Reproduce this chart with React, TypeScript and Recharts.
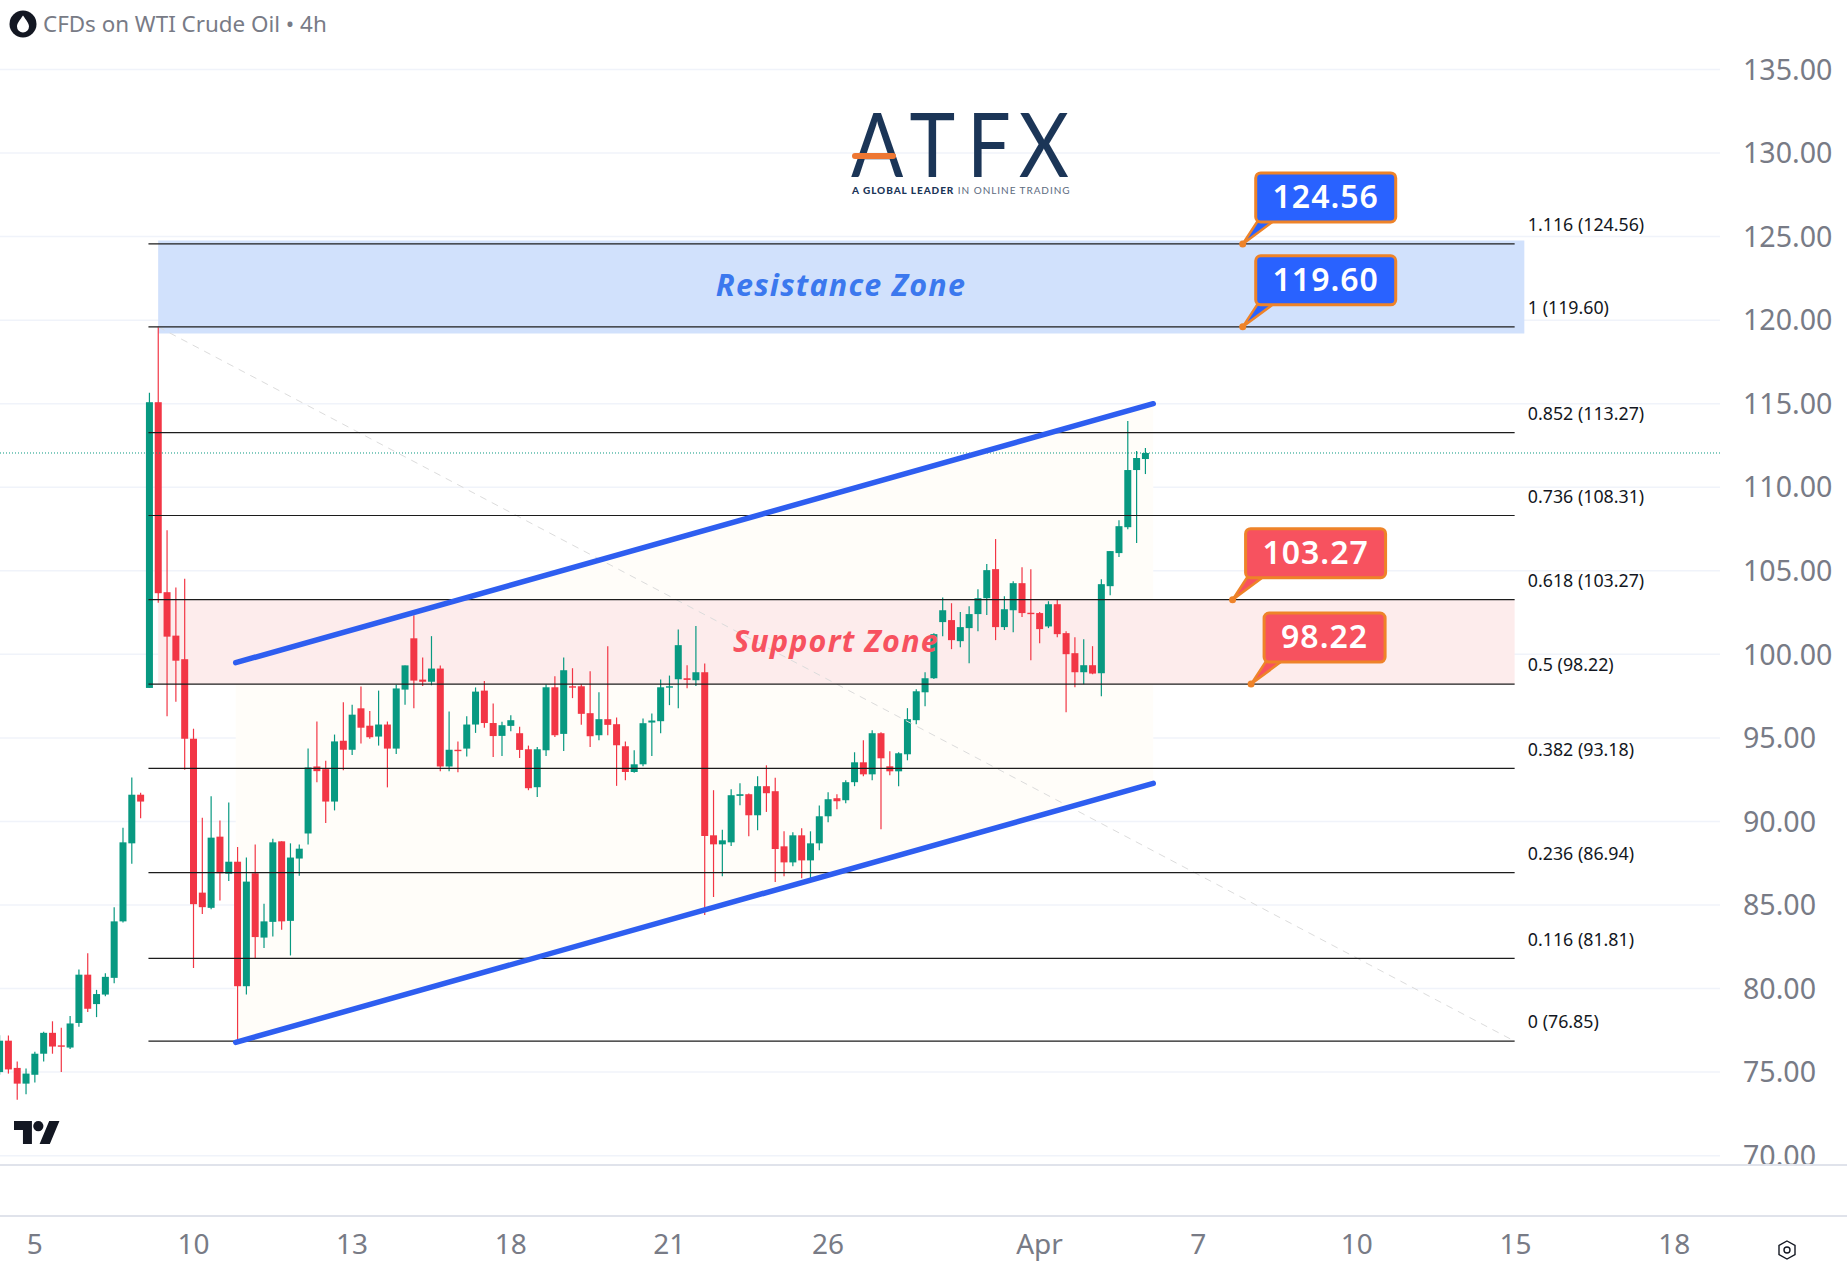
import React from "react";
import { ComposedChart, Bar, XAxis, YAxis, CartesianGrid, ReferenceLine, ReferenceArea, ReferenceDot } from "recharts";

const opens = [75.0,76.88,75.25,74.31,74.84,76.10,77.35,76.60,76.47,77.94,80.83,79.07,79.64,80.64,84.02,88.69,91.60,97.99,115.09,103.72,101.12,99.71,94.95,85.74,84.83,89.09,86.87,87.59,80.14,86.90,83.05,83.99,88.81,84.05,87.78,89.28,93.29,93.13,91.19,94.83,94.29,96.77,95.73,95.08,95.80,94.36,97.89,100.96,98.49,98.36,99.15,93.29,94.29,94.36,95.80,97.83,95.89,95.12,95.72,95.28,94.32,92.05,94.26,98.03,95.24,98.09,98.09,96.48,95.16,96.12,95.82,94.50,92.96,93.42,95.92,96.0,98.01,98.51,98.57,98.45,98.93,89.17,88.63,88.75,91.53,91.63,90.37,92.11,91.81,88.51,87.55,89.17,87.67,88.69,90.31,91.39,91.27,92.35,93.54,92.82,95.28,93.30,93.0,94.02,96.06,97.73,98.57,101.93,102.05,100.79,101.57,102.41,103.36,105.10,101.63,102.64,104.26,102.49,102.47,101.67,103.0,101.27,100.07,98.93,99.35,98.87,104.08,106.06,107.61,111.03,111.69];
const closes = [76.88,75.16,74.31,74.91,76.10,77.35,76.53,76.57,77.91,80.83,78.79,79.67,80.70,84.02,88.75,91.60,91.19,115.09,103.66,101.06,99.62,94.95,85.05,84.87,89.03,86.90,87.59,80.14,86.40,83.08,84.02,88.75,84.02,87.84,88.37,93.23,93.01,91.19,94.79,94.29,96.39,95.61,95.04,95.80,94.36,97.96,99.34,98.43,98.36,99.15,93.29,94.29,94.23,95.80,97.77,95.89,95.11,95.76,96.06,94.28,91.99,94.32,98.03,95.16,99.05,98.03,96.44,95.10,96.12,95.78,94.56,92.96,93.42,95.88,96.04,98.03,98.09,100.55,98.47,98.93,89.13,88.63,88.87,91.57,91.63,90.37,92.11,91.69,88.35,87.55,89.17,87.67,88.69,90.31,91.33,91.21,92.35,93.54,92.82,95.28,93.78,93.0,94.08,96.12,97.79,98.57,101.21,102.64,100.85,101.63,102.41,103.36,105.04,101.63,102.70,104.26,102.47,102.43,101.51,103.0,101.21,100.01,98.93,99.35,98.85,104.20,106.18,107.67,111.03,111.75,112.05];
const highs = [77.2,77.19,75.63,75.22,76.22,77.41,78.04,77.66,78.35,81.14,82.11,79.92,80.92,84.87,89.63,92.63,91.72,115.65,119.6,107.42,104.0,104.53,95.55,90.22,91.51,90.06,91.13,88.47,87.84,88.62,85.08,88.97,88.81,88.69,88.62,94.36,95.98,93.64,95.20,97.14,96.99,98.08,96.61,97.83,95.98,98.18,99.34,102.34,99.81,101.09,99.34,96.58,94.79,96.30,98.02,98.40,97.06,95.96,96.36,95.66,94.54,94.46,98.19,98.69,99.81,99.17,98.21,98.99,97.73,100.49,96.22,94.78,94.26,96.16,96.46,98.49,98.73,101.49,99.35,101.69,99.45,91.87,89.51,91.93,92.29,91.67,92.70,93.36,92.62,89.41,89.35,89.59,89.41,90.95,91.75,91.63,92.47,94.14,94.86,95.46,95.34,94.20,94.14,96.78,97.91,98.93,101.27,103.40,103.06,102.53,102.88,103.90,105.40,106.90,103.48,104.38,105.22,105.10,102.53,103.18,103.30,101.39,101.03,100.91,100.49,104.50,106.18,108.03,113.96,112.17,112.35];
const lows = [74.84,74.91,73.34,73.68,74.37,75.63,76.10,75.0,76.38,77.72,78.60,78.29,79.54,80.32,83.96,87.47,90.19,97.99,103.09,96.30,97.17,93.10,81.23,84.46,84.74,85.27,86.43,76.85,79.64,81.80,82.42,83.11,83.52,81.98,86.75,88.62,92.35,89.91,90.66,93.07,93.98,94.67,94.95,94.54,92.04,94.04,96.99,96.77,98.11,98.15,93.01,93.01,92.95,93.89,95.30,95.61,93.86,93.92,95.40,93.80,91.87,91.47,93.92,95.06,94.22,97.38,95.78,94.46,94.86,95.16,92.13,92.47,92.92,93.30,93.92,95.28,96.96,96.78,97.97,98.11,84.40,85.48,86.72,88.53,90.97,89.11,89.47,90.57,86.38,86.72,87.32,86.60,86.48,88.27,89.95,90.73,91.09,92.11,92.70,92.47,89.53,92.76,92.11,93.66,95.82,96.90,98.53,101.09,100.31,100.43,99.47,101.39,102.35,100.85,101.45,101.33,102.23,99.65,100.67,101.57,101.03,96.54,98.03,98.21,98.81,97.49,103.54,105.82,107.49,106.66,110.79];

const yTicks = [70,75,80,85,90,95,100,105,110,115,120,125,130,135];
const xTickIndex = [4,22,40,58,76,94,118,136,154,172,190];
const xTickLabels = ["5","10","13","18","21","26","Apr","7","10","15","18"];

const fibRatios = ["1.116","1","0.852","0.736","0.618","0.5","0.382","0.236","0.116","0"];
const fibPrices = [124.56,119.60,113.27,108.31,103.27,98.22,93.18,86.94,81.81,76.85];

const GREEN = "#089981";
const RED = "#f23645";
const GREY = "#787b86";
const FONT = "'Noto Sans', sans-serif";

const data = opens.map((o, i) => ({ i, open: o, close: closes[i], range: [lows[i], highs[i]] }));

const Candle = (p: any) => {
  const { x, y, width, height, payload } = p;
  const top = Math.min(y, y + height);
  const h = Math.abs(height);
  const hi = payload.range[1];
  const lo = payload.range[0];
  const toPx = (v: number) => top + ((hi - v) / (hi - lo)) * h;
  const color = payload.close >= payload.open ? GREEN : RED;
  const a = toPx(Math.max(payload.open, payload.close));
  const b = toPx(Math.min(payload.open, payload.close));
  const cx = x + width / 2;
  return (
    <g>
      <line x1={cx} x2={cx} y1={top} y2={top + h} stroke={color} strokeWidth={1.2} />
      <rect x={x} y={a} width={width} height={Math.max(b - a, 1.4)} fill={color} />
    </g>
  );
};

const Callout = ({ cx, cy, label, fill, w }: any) => {
  const bx = cx + 13, by = cy - 71, bh = 49;
  return (
    <g>
      <path d={`M${cx} ${cy} L${bx + 2} ${by + bh - 1} L${bx + 18} ${by + bh - 1} Z`} fill={fill} stroke="#ee8329" strokeWidth={2.5} strokeLinejoin="round" />
      <rect x={bx} y={by} width={w} height={bh} rx={5} fill={fill} stroke="#ee8329" strokeWidth={3} />
      <circle cx={cx} cy={cy} r={3.5} fill="#ee8329" />
      <text x={bx + w / 2} y={by + 35} textAnchor="middle" fill="#fff" fontFamily={FONT} fontWeight={600} fontSize={32} letterSpacing={1}>{label}</text>
    </g>
  );
};

const callouts = [
  { price: 124.56, idx: 141.05, fill: "#2962ff", w: 140 },
  { price: 119.60, idx: 141.05, fill: "#2962ff", w: 140 },
  { price: 103.27, idx: 139.9, fill: "#f7525f", w: 140 },
  { price: 98.22, idx: 142.0, fill: "#f7525f", w: 121 },
];

const channelLeft = 26.8, channelRight = 130.9;
const upperLeft = 99.5, upperRight = 115.0, lowerLeft = 76.78, lowerRight = 92.28;

const ChannelFill = ({ x, y, width, height }: any) => {
  const frac = (v: number) => y + ((upperRight - v) / (upperRight - lowerLeft)) * height;
  const pts = [[x, frac(upperLeft)], [x + width, frac(upperRight)], [x + width, frac(lowerRight)], [x, frac(lowerLeft)]];
  return <polygon points={pts.map((q) => q.join(",")).join(" ")} fill="#fffdf9" />;
};

export default function App() {
  return (
    <div style={{ position: "absolute", left: 0, top: 0, width: 1847, height: 1274, background: "#fff", overflow: "hidden" }}>
      <ComposedChart width={1847} height={1274} data={data} margin={{ top: 0, right: 0, bottom: 0, left: 0 }} barSize={7}>
        <CartesianGrid vertical={false} stroke="#f0f3fa" strokeWidth={1.5} horizontalValues={yTicks} />
        <XAxis
          dataKey="i"
          type="number"
          domain={[0.0567, 195.2]}
          allowDataOverflow
          ticks={xTickIndex}
          interval={0}
          tickFormatter={(v: number) => xTickLabels[xTickIndex.indexOf(v)]}
          height={109}
          axisLine={false}
          tickLine={false}
          tickMargin={63}
          tick={{ fill: GREY, fontSize: 28, fontFamily: FONT }}
        />
        <YAxis
          orientation="right"
          width={127}
          domain={[69.44, 139.16]}
          allowDataOverflow
          ticks={yTicks}
          interval={0}
          tickFormatter={(v: number) => v.toFixed(2)}
          axisLine={false}
          tickLine={false}
          tickMargin={17}
          tick={{ fill: GREY, fontSize: 28.6, fontFamily: FONT, textAnchor: "start" }}
        />
        <ReferenceArea x1={channelLeft} x2={channelRight} y1={lowerLeft} y2={upperRight} shape={ChannelFill} />
        <ReferenceArea x1={18} x2={173} y1={119.2} y2={124.77} fill="#d1e1fc" fillOpacity={1} stroke="none" />
        <ReferenceArea x1={18} x2={171.9} y1={98.22} y2={103.27} fill="#fdecec" fillOpacity={1} stroke="none" />
        <ReferenceLine y={112.05} stroke={GREEN} strokeDasharray="1 2" strokeWidth={1} />
        <ReferenceLine segment={[{ x: 18, y: 119.6 }, { x: 171.9, y: 76.85 }]} stroke="#dcdcdc" strokeDasharray="7 6" strokeWidth={1} />
        {fibPrices.map((p) => (
          <ReferenceLine key={p} segment={[{ x: 16.9, y: p }, { x: 171.9, y: p }]} stroke="#1c1c1c" strokeWidth={1.2} />
        ))}
        {fibPrices.map((p, k) => (
          <ReferenceDot
            key={"t" + p}
            x={173.4}
            y={p}
            shape={({ cx, cy }: any) => (
              <text x={cx} y={cy - 12.7} fill="#131722" fontFamily={FONT} fontSize={17.8}>{`${fibRatios[k]} (${p.toFixed(2)})`}</text>
            )}
          />
        ))}
        <ReferenceDot x={95.47} y={122.05} shape={({ cx, cy }: any) => (
          <text x={cx} y={cy} dy={10} textAnchor="middle" fill="#3b78ee" fontFamily={FONT} fontStyle="italic" fontWeight={700} fontSize={30.5} letterSpacing={1.2}>Resistance Zone</text>
        )} />
        <ReferenceDot x={94.9} y={100.75} shape={({ cx, cy }: any) => (
          <text x={cx} y={cy} dy={10} textAnchor="middle" fill="#f7525f" fontFamily={FONT} fontStyle="italic" fontWeight={700} fontSize={30.5} letterSpacing={1.2}>Support Zone</text>
        )} />
        <Bar dataKey="range" shape={Candle} isAnimationActive={false} />
        <ReferenceLine segment={[{ x: channelLeft, y: upperLeft }, { x: channelRight, y: upperRight }]} stroke="#2e5ef0" strokeWidth={5.5} strokeLinecap="round" />
        <ReferenceLine segment={[{ x: channelLeft, y: lowerLeft }, { x: channelRight, y: lowerRight }]} stroke="#2e5ef0" strokeWidth={5.5} strokeLinecap="round" />
        {callouts.map((c) => (
          <ReferenceDot
            key={c.price}
            x={c.idx}
            y={c.price}
            shape={({ cx, cy }: any) => <Callout cx={cx} cy={cy} label={c.price.toFixed(2)} fill={c.fill} w={c.w} />}
          />
        ))}
      </ComposedChart>

      <div style={{ position: "absolute", left: 0, right: 0, top: 1164, height: 2, background: "#e0e3eb" }} />
      <div style={{ position: "absolute", left: 0, right: 0, top: 1215, height: 2, background: "#e0e3eb" }} />

      <svg width={1847} height={1274} style={{ position: "absolute", left: 0, top: 0, pointerEvents: "none" }}>
        <circle cx={23} cy={24} r={13.5} fill="#131722" />
        <path d="M23 15.5 C26 20 29 23 29 26.5 A6 6 0 0 1 17 26.5 C17 23 20 20 23 15.5 Z" fill="#fff" />
        <text x={43} y={32} fontFamily={FONT} fontSize={22.4} fill={GREY}>CFDs on WTI Crude Oil • 4h</text>

        <text transform="translate(851 177) scale(0.86 1)" x="0 68 135 195" y={0} fontFamily="Lato, sans-serif" fontWeight={400} fontSize={90} fill="#1b3557">ATFX</text>
        <rect x={852} y={153} width={44} height={6} rx={3} fill="#ee7733" />
        <text x={852} y={194} fontFamily="Lato, sans-serif" fontSize={10} fill="#5d6b80" letterSpacing={0.95}>
          <tspan fontWeight={900} fill="#1b3557">A GLOBAL LEADER</tspan> IN ONLINE TRADING
        </text>

        <g transform="translate(14 1121) scale(1.28)" fill="#131722">
          <path d="M14 18H7V7H0V0h14v18zM28 18h-8L27.5 0h8L28 18z" />
          <circle cx={19} cy={4} r={4} />
        </g>

        <g transform="translate(1787 1250)" fill="none" stroke="#131722" strokeWidth={1.4}>
          <path d="M0 -9 L8 -4.5 L8 4.5 L0 9 L-8 4.5 L-8 -4.5 Z" />
          <circle r={3} />
        </g>
      </svg>
    </div>
  );
}
